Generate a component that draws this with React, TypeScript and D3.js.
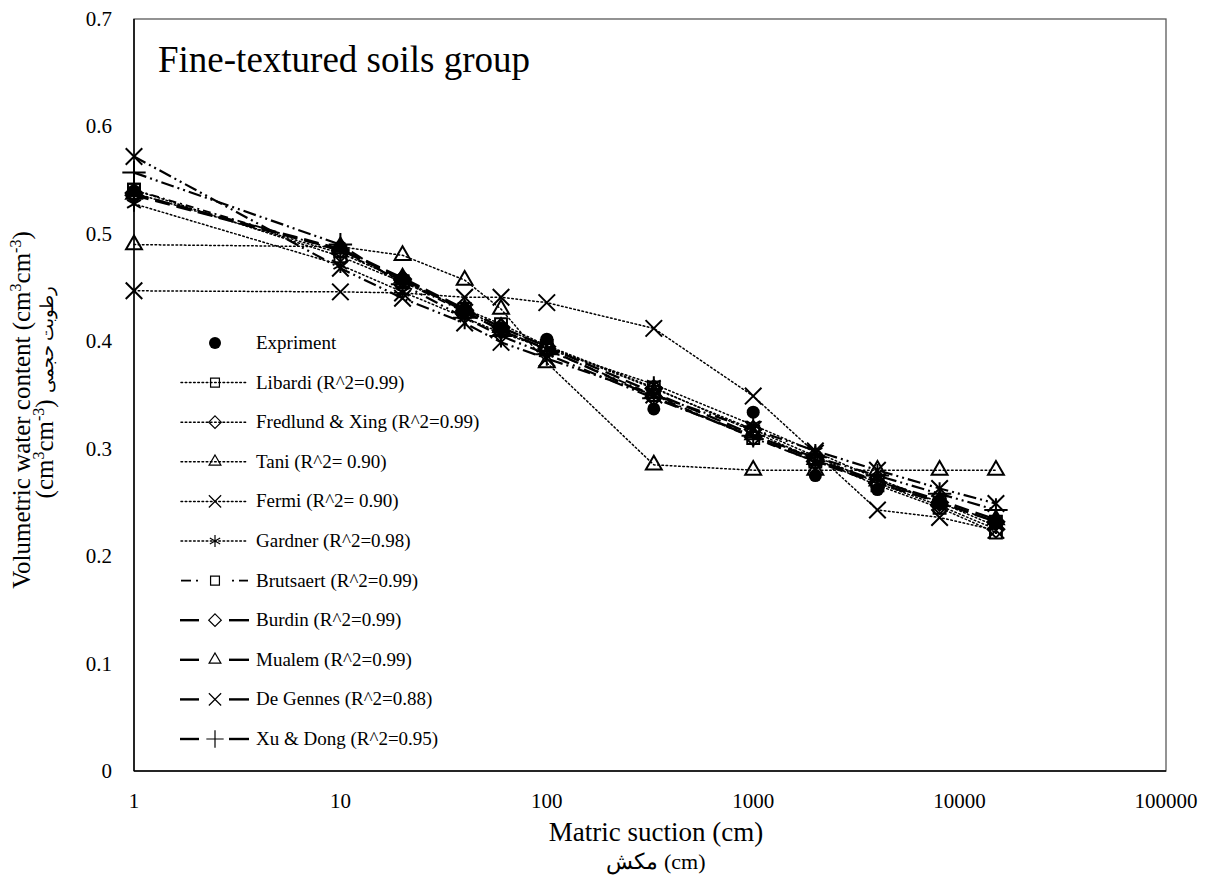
import * as d3 from "d3";
import React from "react";
import { useRef, useEffect } from "react";

// matric suction (cm)
const suction = [1, 10, 20, 40, 60, 100, 330, 1000, 2000, 4000, 8000, 15000];

// measured water content
const experiment = [0.54, 0.488, 0.458, 0.43, 0.412, 0.402, 0.337, 0.334, 0.275, 0.262, 0.25, 0.232];

// fitted models
const libardi = [0.541, 0.479, 0.455, 0.43, 0.416, 0.396, 0.357, 0.316, 0.29, 0.266, 0.245, 0.222];
const fredlund = [0.538, 0.482, 0.457, 0.429, 0.413, 0.395, 0.356, 0.318, 0.293, 0.268, 0.247, 0.225];
const tani = [0.49, 0.488, 0.48, 0.457, 0.43, 0.38, 0.285, 0.28, 0.28, 0.28, 0.28, 0.28];
const fermi = [0.447, 0.446, 0.445, 0.441, 0.441, 0.436, 0.412, 0.349, 0.296, 0.243, 0.236, 0.224];
const gardner = [0.528, 0.471, 0.446, 0.422, 0.408, 0.393, 0.36, 0.322, 0.297, 0.272, 0.25, 0.228];
const brutsaert = [0.541, 0.484, 0.456, 0.427, 0.411, 0.392, 0.35, 0.31, 0.288, 0.27, 0.25, 0.232];
const burdin = [0.536, 0.485, 0.458, 0.428, 0.41, 0.393, 0.348, 0.311, 0.288, 0.268, 0.25, 0.232];
const mualem = [0.537, 0.486, 0.459, 0.43, 0.413, 0.395, 0.352, 0.313, 0.29, 0.27, 0.252, 0.234];
const deGennes = [0.572, 0.468, 0.44, 0.417, 0.399, 0.384, 0.35, 0.318, 0.298, 0.28, 0.263, 0.249];
const xuDong = [0.557, 0.49, 0.453, 0.422, 0.405, 0.388, 0.347, 0.312, 0.292, 0.275, 0.258, 0.243];

const xTicks = [1, 10, 100, 1000, 10000, 100000];
const yTicks = [0, 0.1, 0.2, 0.3, 0.4, 0.5, 0.6, 0.7];

const DOT = "1.6,2.6";
const DASHDOT = "8,4,2,4";
const LONG = "15,7";
const LONGDOT = "13,4,2,4,2,4";

const models = [
  { name: "Libardi (R^2=0.99)", values: libardi, symbol: d3.symbolSquare2, dash: DOT, width: 1.5, legend: "dot" },
  { name: "Fredlund & Xing (R^2=0.99)", values: fredlund, symbol: d3.symbolDiamond2, dash: DOT, width: 1.5, legend: "dot" },
  { name: "Tani (R^2= 0.90)", values: tani, symbol: d3.symbolTriangle2, dash: DOT, width: 1.5, legend: "dot" },
  { name: "Fermi (R^2= 0.90)", values: fermi, symbol: d3.symbolTimes, dash: DOT, width: 1.5, legend: "dot" },
  { name: "Gardner (R^2=0.98)", values: gardner, symbol: d3.symbolAsterisk, dash: DOT, width: 1.5, legend: "dot" },
  { name: "Brutsaert (R^2=0.99)", values: brutsaert, symbol: d3.symbolSquare2, dash: DASHDOT, width: 1.8, legend: "dashdot" },
  { name: "Burdin (R^2=0.99)", values: burdin, symbol: d3.symbolDiamond2, dash: LONG, width: 2.4, legend: "long" },
  { name: "Mualem (R^2=0.99)", values: mualem, symbol: d3.symbolTriangle2, dash: LONG, width: 2.4, legend: "long" },
  { name: "De Gennes (R^2=0.88)", values: deGennes, symbol: d3.symbolTimes, dash: LONGDOT, width: 2.2, legend: "long" },
  { name: "Xu & Dong (R^2=0.95)", values: xuDong, symbol: d3.symbolPlus, dash: LONGDOT, width: 2.2, legend: "long" },
];

const W = 1209;
const H = 885;
const margin = { left: 134, right: 43, top: 19, bottom: 114 };
const FONT = "'Liberation Serif', 'Times New Roman', 'DejaVu Serif', serif";

export default function App() {
  const ref = useRef<SVGSVGElement>(null);

  useEffect(() => {
    const svg = d3.select(ref.current);
    svg.selectAll("*").remove();

    const x = d3.scaleLog().domain([1, 100000]).range([margin.left, W - margin.right]);
    const y = d3.scaleLinear().domain([0, 0.7]).range([H - margin.bottom, margin.top]);

    svg.append("rect").attr("width", W).attr("height", H).attr("fill", "#fff");

    // plot frame
    svg.append("rect")
      .attr("x", x(1)).attr("y", y(0.7))
      .attr("width", x(100000) - x(1)).attr("height", y(0) - y(0.7))
      .attr("fill", "none").attr("stroke", "#595959").attr("stroke-width", 1.3);
    svg.append("line")
      .attr("x1", x(1)).attr("x2", x(1)).attr("y1", y(0.7)).attr("y2", y(0))
      .attr("stroke", "#000").attr("stroke-width", 1.5);
    svg.append("line")
      .attr("x1", x(1)).attr("x2", x(100000)).attr("y1", y(0)).attr("y2", y(0))
      .attr("stroke", "#000").attr("stroke-width", 1.5);

    // tick labels
    svg.append("g").selectAll("text").data(yTicks).enter().append("text")
      .attr("x", 112).attr("y", (d) => y(d) + 7)
      .attr("text-anchor", "end")
      .style("font-family", FONT).style("font-size", "21px")
      .text((d) => (d === 0 ? "0" : d3.format(".1f")(d)));

    svg.append("g").selectAll("text").data(xTicks).enter().append("text")
      .attr("x", (d) => x(d)).attr("y", 808)
      .attr("text-anchor", "middle")
      .style("font-family", FONT).style("font-size", "21px")
      .text((d) => String(d));

    // model lines
    const line = d3.line<number>()
      .x((d, i) => x(suction[i]))
      .y((d) => y(d));

    const plot = svg.append("g");
    models.forEach((m) => {
      plot.append("path")
        .attr("d", line(m.values))
        .attr("fill", "none")
        .attr("stroke", "#000")
        .attr("stroke-width", m.width)
        .attr("stroke-dasharray", m.dash)
        .attr("stroke-linecap", m.dash === DOT ? "round" : "butt");
    });

    models.forEach((m) => {
      const sym = d3.symbol().type(m.symbol).size(180);
      plot.append("g").selectAll("path").data(m.values).enter().append("path")
        .attr("transform", (d, i) => `translate(${x(suction[i])},${y(d)})`)
        .attr("d", sym())
        .attr("fill", "none")
        .attr("stroke", "#000")
        .attr("stroke-width", 2);
    });

    plot.append("g").selectAll("circle").data(experiment).enter().append("circle")
      .attr("cx", (d, i) => x(suction[i]))
      .attr("cy", (d) => y(d))
      .attr("r", 6.5)
      .attr("fill", "#000");

    // title
    svg.append("text")
      .attr("x", 158).attr("y", 72)
      .style("font-family", FONT).style("font-size", "37px")
      .text("Fine-textured soils group");

    // legend
    const leg = svg.append("g");
    const rowY = (i: number) => 343 + i * 39.6;
    const mx = 215;
    leg.append("circle").attr("cx", mx).attr("cy", rowY(0)).attr("r", 6).attr("fill", "#000");
    leg.append("text").attr("x", 256).attr("y", rowY(0) + 6)
      .style("font-family", FONT).style("font-size", "19px").text("Expriment");

    models.forEach((m, k) => {
      const cy = rowY(k + 1);
      if (m.legend === "dot") {
        leg.append("line").attr("x1", 181).attr("x2", 248).attr("y1", cy).attr("y2", cy)
          .attr("stroke", "#000").attr("stroke-width", 1.5)
          .attr("stroke-dasharray", DOT).attr("stroke-linecap", "round");
      } else if (m.legend === "dashdot") {
        [[181, 191], [196, 198], [232, 234], [239, 248]].forEach(([a, b]) => {
          leg.append("line").attr("x1", a).attr("x2", b).attr("y1", cy).attr("y2", cy)
            .attr("stroke", "#000").attr("stroke-width", 1.8);
        });
      } else {
        [[180, 199], [229, 249]].forEach(([a, b]) => {
          leg.append("line").attr("x1", a).attr("x2", b).attr("y1", cy).attr("y2", cy)
            .attr("stroke", "#000").attr("stroke-width", 2.4);
        });
      }
      leg.append("path")
        .attr("transform", `translate(${mx},${cy})`)
        .attr("d", d3.symbol().type(m.symbol).size(100)())
        .attr("fill", "none").attr("stroke", "#000").attr("stroke-width", 1.2);
      leg.append("text").attr("x", 256).attr("y", cy + 6)
        .style("font-family", FONT).style("font-size", "19px").text(m.name);
    });

    // axis titles
    const yl = svg.append("text")
      .attr("transform", "translate(30,410) rotate(-90)")
      .attr("text-anchor", "middle")
      .style("font-family", FONT).style("font-size", "25px");
    yl.append("tspan").text("Volumetric water content (cm");
    yl.append("tspan").attr("dy", -9).style("font-size", "16px").text("3");
    yl.append("tspan").attr("dy", 9).text("cm");
    yl.append("tspan").attr("dy", -9).style("font-size", "16px").text("-3");
    yl.append("tspan").attr("dy", 9).text(")");

    const yl2 = svg.append("text")
      .attr("transform", "translate(53,392) rotate(-90)")
      .attr("text-anchor", "middle")
      .style("font-family", FONT).style("font-size", "25px");
    yl2.append("tspan").text("(cm");
    yl2.append("tspan").attr("dy", -9).style("font-size", "16px").text("3");
    yl2.append("tspan").attr("dy", 9).text("cm");
    yl2.append("tspan").attr("dy", -9).style("font-size", "16px").text("-3");
    yl2.append("tspan").attr("dy", 9).text(")  ");
    yl2.append("tspan").style("font-size", "18px").text("رطوبت حجمی");

    svg.append("text")
      .attr("x", 656).attr("y", 841)
      .attr("text-anchor", "middle")
      .style("font-family", FONT).style("font-size", "27px")
      .text("Matric suction (cm)");
    svg.append("text")
      .attr("x", 656).attr("y", 869)
      .attr("text-anchor", "middle")
      .style("font-family", FONT).style("font-size", "22px")
      .text("مکش (cm)");
  }, []);

  return <svg ref={ref} width={W} height={H} style={{ display: "block", margin: "-8px" }} />;
}
